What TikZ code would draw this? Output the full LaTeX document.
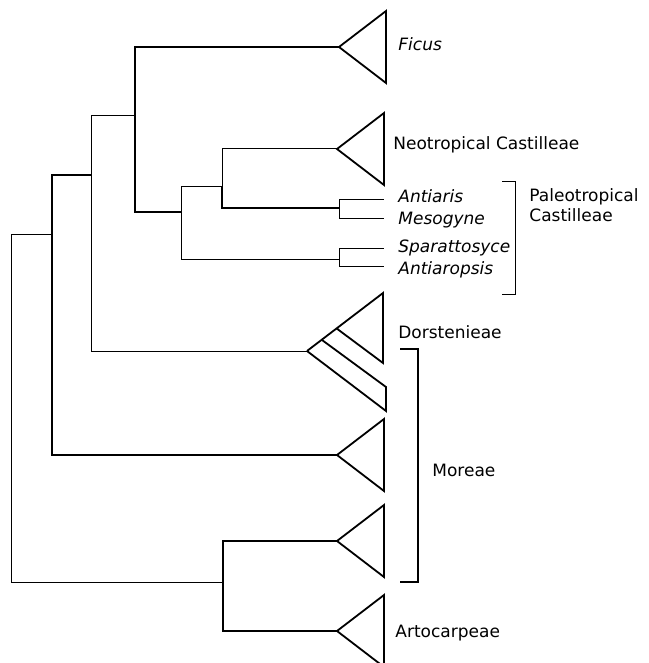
\documentclass[tikz,border=0pt]{standalone}
\usepackage{fontspec}
\setmainfont{DejaVu Sans}
\usetikzlibrary{calc}

\begin{document}
\begin{tikzpicture}[x=0.5pt, y=-0.5pt,
  br/.style={line width=0.5pt},
  brt/.style={line width=0.9pt},
  lab/.style={anchor=base west, inner sep=0pt, font=\fontsize{8.5}{9.5}\selectfont},
  taxon/.style={lab, font=\fontsize{8.5}{9.5}\selectfont\itshape}
]
\useasboundingbox (0,0) rectangle (648,663);
% internal nodes
\coordinate (root) at (11,408);
\coordinate (nB) at (52,234);
\coordinate (nC) at (91,175);
\coordinate (nD) at (135,116);
\coordinate (nE) at (181,212);
\coordinate (nF) at (222,187);
\coordinate (nG) at (339,208);
\coordinate (nH) at (339,259);
\coordinate (nA) at (223,582);
% collapsed clades and tips
\coordinate (ficus) at (339,47);
\coordinate (neo) at (337,149);
\coordinate (dors) at (307,351);
\coordinate (mor1) at (337,455);
\coordinate (mor2) at (337,541);
\coordinate (arto) at (337,631);
\coordinate (antiaris) at (384,200);
\coordinate (mesogyne) at (384,219);
\coordinate (sparatt) at (384,248);
\coordinate (antiarop) at (384,266);

\draw[br] (root) |- (nB);
\draw[br] (root) |- (nA);
\draw[brt] (nB) |- (nC);
\draw[brt] (nB) |- (mor1);
\draw[br] (nC) |- (nD);
\draw[br] (nC) |- (dors);
\draw[brt] (nD) |- (ficus);
\draw[brt] (nD) |- (nE);
\draw[br] (nE) |- (nF);
\draw[br] (nE) |- (nH);
\draw[br] (nF) |- (neo);
\draw[brt] (nF) |- (nG);
\draw[br] (nG) |- (antiaris);
\draw[br] (nG) |- (mesogyne);
\draw[br] (nH) |- (sparatt);
\draw[br] (nH) |- (antiarop);
\draw[brt] (nA) |- (mor2);
\draw[brt] (nA) |- (arto);

\foreach \c in {ficus,neo,mor1,mor2,arto}
  \draw[brt] (\c) -- ++(47,-36) -- ++(0,72) -- cycle;
\draw[brt] (dors) -- ++(76,-58) -- ++(0,70) -- ($(dors)+(29,-23)$);
\draw[brt] ($(dors)+(15,-11)$) -- ++(64,47) -- ++(0,24) -- (dors);

% brackets
\draw[br] (502,182) -| (515,294) -- (502,294);
\draw[brt] (400,349) -| (418,582) -- (400,582);

\node[taxon] (lficus) at (398,51) {Ficus};
\node[lab] (lneo) at (393,150) {Neotropical Castilleae};
\node[taxon] (lantiaris) at (398,203) {Antiaris};
\node[taxon] (lmesogyne) at (398,225) {Mesogyne};
\node[taxon] (lsparatt) at (398,252) {Sparattosyce};
\node[taxon] (lantiarop) at (398,274) {Antiaropsis};
\node[lab, align=left] (lpaleo) at (529,221) {Paleotropical\\Castilleae};
\node[lab] (ldors) at (398,338) {Dorstenieae};
\node[lab] (lmor) at (432,476) {Moreae};
\node[lab] (larto) at (395,637) {Artocarpeae};
\end{tikzpicture}
\end{document}
